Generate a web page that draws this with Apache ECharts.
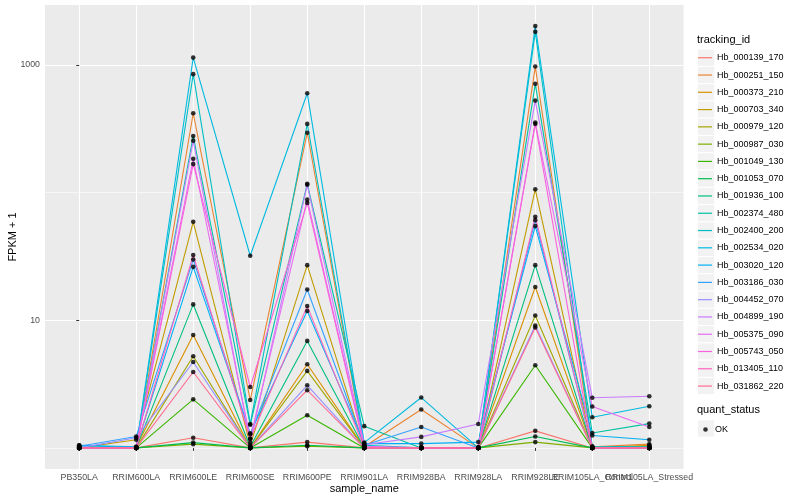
<!DOCTYPE html>
<html><head><meta charset="utf-8">
<script src="https://cdn.jsdelivr.net/npm/echarts@6/dist/echarts.min.js"></script>
<style>html,body{margin:0;padding:0;background:#fff}#c{width:800px;height:500px}</style>
</head><body><div id="c"></div>
<script>
const categories = ['PB350LA','RRIM600LA','RRIM600LE','RRIM600SE','RRIM600PE','RRIM901LA','RRIM928BA','RRIM928LA','RRIM928LE','RRIM105LA_Control','RRIM105LA_Stressed'];
const trackingIds = ['Hb_000139_170','Hb_000251_150','Hb_000373_210','Hb_000703_340','Hb_000979_120','Hb_000987_030','Hb_001049_130','Hb_001053_070','Hb_001936_100','Hb_002374_480','Hb_002400_200','Hb_002534_020','Hb_003020_120','Hb_003186_030','Hb_004452_070','Hb_004899_190','Hb_005375_090','Hb_005743_050','Hb_013405_110','Hb_031862_220'];
const colors = ['#F8766D','#EA8331','#D89000','#C09B00','#A3A500','#7CAE00','#39B600','#00BB4E','#00BF7D','#00C1A3','#00BFC4','#00BAE0','#00B0F6','#35A2FF','#9590FF','#C77CFF','#E76BF3','#FA62DB','#FF62BC','#FF6C90'];

// FPKM + 1 per sample (order of categories)
const Hb_000139_170 = [1.0, 1.0, 1.20, 1.0, 1.11, 1.0, 1.0, 1.0, 1.36, 1.0, 1.0];
const Hb_000251_150 = [1.0, 1.0, 418, 2.37, 294, 1.02, 2.0, 1.0, 970, 1.02, 1.07];
const Hb_000373_210 = [1.0, 1.02, 7.67, 1.0, 4.52, 1.0, 1.0, 1.0, 18.2, 1.0, 1.05];
const Hb_000703_340 = [1.0, 1.16, 59, 1.05, 27, 1.0, 1.0, 1.0, 106, 1.0, 1.03];
const Hb_000979_120 = [1.0, 1.0, 5.22, 1.0, 4.01, 1.0, 1.0, 1.0, 10.9, 1.0, 1.0];
const Hb_000987_030 = [1.0, 1.0, 1.07, 1.0, 1.03, 1.0, 1.0, 1.0, 1.11, 1.0, 1.0];
const Hb_001049_130 = [1.0, 1.0, 2.40, 1.0, 1.80, 1.0, 1.0, 1.0, 4.44, 1.0, 1.0];
const Hb_001053_070 = [1.0, 1.0, 1.10, 1.0, 1.05, 1.0, 1.0, 1.0, 1.23, 1.0, 1.0];
const Hb_001936_100 = [1.0, 1.0, 13.3, 1.02, 6.89, 1.0, 1.0, 1.0, 27, 1.0, 1.0];
const Hb_002374_480 = [1.0, 1.0, 277, 1.52, 117, 1.48, 1.0, 1.0, 710, 1.31, 1.55];
const Hb_002400_200 = [1.02, 1.0, 846, 1.54, 345, 1.05, 1.0, 1.0, 1815, 1.03, 1.02];
const Hb_002534_020 = [1.05, 1.0, 1140, 32, 600, 1.10, 2.48, 1.0, 2013, 1.74, 2.12];
const Hb_003020_120 = [1.05, 1.02, 26.2, 1.30, 11.8, 1.08, 1.08, 1.11, 54.6, 1.25, 1.16];
const Hb_003186_030 = [1.03, 1.23, 29.9, 1.28, 17.4, 1.05, 1.46, 1.0, 60.8, 1.0, 1.0];
const Hb_004452_070 = [1.0, 1.20, 4.71, 1.0, 3.09, 1.0, 1.0, 1.0, 9.1, 1.0, 1.0];
const Hb_004899_190 = [1.0, 1.0, 255, 1.10, 115, 1.06, 1.22, 1.54, 525, 2.47, 2.54];
const Hb_005375_090 = [1.0, 1.0, 184, 1.18, 88, 1.03, 1.0, 1.0, 353, 2.11, 1.46];
const Hb_005743_050 = [1.0, 1.0, 167, 3.0, 83, 1.0, 1.0, 1.0, 345, 1.0, 1.0];
const Hb_013405_110 = [1.0, 1.0, 32.4, 1.18, 12.9, 1.0, 1.0, 1.0, 64.6, 1.0, 1.0];
const Hb_031862_220 = [1.0, 1.0, 3.93, 1.0, 2.83, 1.0, 1.0, 1.0, 8.77, 1.0, 1.0];

const seriesValues = [Hb_000139_170, Hb_000251_150, Hb_000373_210, Hb_000703_340, Hb_000979_120, Hb_000987_030, Hb_001049_130, Hb_001053_070, Hb_001936_100, Hb_002374_480, Hb_002400_200, Hb_002534_020, Hb_003020_120, Hb_003186_030, Hb_004452_070, Hb_004899_190, Hb_005375_090, Hb_005743_050, Hb_013405_110, Hb_031862_220];

const yMajorTicks = [10, 1000];
const yMinorTicks = [1, 100];
const quantStatus = ['OK'];

const FONT = 'Liberation Sans, Arial, Helvetica, sans-serif';
const allVals = seriesValues.flat();
const lmin = Math.log10(Math.min(...allVals)), lmax = Math.log10(Math.max(...allVals));
const pad = 0.05 * (lmax - lmin);
const yMin = Math.pow(10, lmin - pad), yMax = Math.pow(10, lmax + pad);
const xIdx = categories.map((c, i) => i);
// alternate label sets so neighbouring long labels are all drawn (as in the reference)
const xIdxA = xIdx.filter(i => i !== categories.length - 2);
const xIdxB = [categories.length - 2];
const xMin = -0.6, xMax = categories.length - 1 + 0.6;

const series = trackingIds.map((id, k) => ({
  type: 'line', name: id, xAxisIndex: 0, yAxisIndex: 0,
  data: seriesValues[k].map((v, i) => [i, v]),
  symbol: 'none', silent: true, z: 2,
  lineStyle: { width: 1.1, color: colors[k] }, itemStyle: { color: colors[k] }
}));
const pts = [];
seriesValues.forEach(arr => arr.forEach((v, i) => pts.push([i, v])));
series.push({ type: 'scatter', name: quantStatus[0], xAxisIndex: 0, yAxisIndex: 0, data: pts,
  symbol: 'circle', symbolSize: 4.6, itemStyle: { color: '#000' }, silent: true, z: 3 });

const KEY = 17.28, KEY_TOP = 48.6;
const graphics = [];
trackingIds.forEach((id, i) => graphics.push({ type: 'rect', left: 697, top: KEY_TOP + i * KEY, shape: { width: KEY, height: KEY }, style: { fill: '#F2F2F2', stroke: '#fff', lineWidth: 1 }, z: 0 }));
graphics.push({ type: 'rect', left: 697, top: 419.4, shape: { width: KEY, height: KEY }, style: { fill: '#F2F2F2', stroke: '#fff', lineWidth: 1 }, z: 0 });
graphics.push({ type: 'text', left: 697, top: 34, style: { text: 'tracking_id', font: '11px ' + FONT, fill: '#000' } });
graphics.push({ type: 'text', left: 697, top: 404.5, style: { text: 'quant_status', font: '11px ' + FONT, fill: '#000' } });

const xLabel = { formatter: v => categories[Math.round(v)], fontSize: 8.8, color: '#4D4D4D', margin: 4, fontFamily: FONT, hideOverlap: false };
const xTick = { show: true, length: 3, lineStyle: { color: '#333', width: 1 } };

const chart = echarts.init(document.getElementById('c'), null, { renderer: 'canvas' });
chart.setOption({
  animation: false,
  backgroundColor: '#fff',
  textStyle: { fontFamily: FONT },
  grid: { left: 45, right: 116.5, top: 5, bottom: 31, show: true, backgroundColor: '#EBEBEB', borderWidth: 0, outerBoundsMode: 'none' },
  xAxis: [{
    type: 'value', position: 'bottom', min: xMin, max: xMax,
    axisLine: { show: false },
    axisTick: Object.assign({ customValues: xIdxA }, xTick),
    axisLabel: Object.assign({ customValues: xIdxA }, xLabel),
    splitLine: { show: false },
    name: 'sample_name', nameLocation: 'middle', nameGap: 14, nameMoveOverlap: false, nameTextStyle: { fontSize: 11, color: '#000', fontFamily: FONT }
  }, {
    type: 'value', position: 'bottom', min: xMin, max: xMax,
    axisLine: { show: false },
    axisTick: Object.assign({ customValues: xIdxB }, xTick),
    axisLabel: Object.assign({ customValues: xIdxB }, xLabel),
    splitLine: { show: false }
  }, {
    type: 'value', position: 'bottom', min: xMin, max: xMax,
    axisLine: { show: false },
    axisTick: { show: false, customValues: xIdx },
    axisLabel: { show: false, customValues: xIdx },
    splitLine: { show: true, lineStyle: { color: '#fff', width: 1.1 } }
  }],
  yAxis: [
    { type: 'log', logBase: 10, min: yMin, max: yMax, show: false },
    { type: 'value', position: 'left', min: Math.log10(yMin), max: Math.log10(yMax),
      axisLine: { show: false },
      axisTick: { show: true, customValues: yMajorTicks.map(Math.log10), length: 3, lineStyle: { color: '#333', width: 1 } },
      axisLabel: { customValues: yMajorTicks.map(Math.log10), formatter: v => String(Math.round(Math.pow(10, v))), fontSize: 8.8, color: '#4D4D4D', margin: 5, fontFamily: FONT },
      splitLine: { show: true, lineStyle: { color: '#fff', width: 1.1 } },
      name: 'FPKM + 1', nameLocation: 'middle', nameGap: 27, nameMoveOverlap: false, nameRotate: 90, nameTextStyle: { fontSize: 11, color: '#000', fontFamily: FONT } },
    { type: 'value', position: 'left', min: Math.log10(yMin), max: Math.log10(yMax),
      axisLine: { show: false },
      axisTick: { show: false, customValues: yMinorTicks.map(Math.log10) },
      axisLabel: { show: false, customValues: yMinorTicks.map(Math.log10) },
      splitLine: { show: true, lineStyle: { color: '#fff', width: 0.55 } } }
  ],
  legend: [
    { data: trackingIds, orient: 'vertical', left: 698, top: 49.1, padding: 0, icon: 'rect', itemWidth: 14, itemHeight: 1.2, itemGap: 0, selectedMode: false,
      textStyle: { fontSize: 9, lineHeight: KEY, color: '#000', fontFamily: FONT } },
    { data: quantStatus, orient: 'vertical', left: 703.2, top: 420.8, padding: 0, itemWidth: 8.8, itemHeight: 4.6, itemGap: 0, icon: 'circle', selectedMode: false,
      textStyle: { fontSize: 9, lineHeight: KEY, color: '#000', fontFamily: FONT } }
  ],
  graphic: graphics,
  series: series
});
</script></body></html>
